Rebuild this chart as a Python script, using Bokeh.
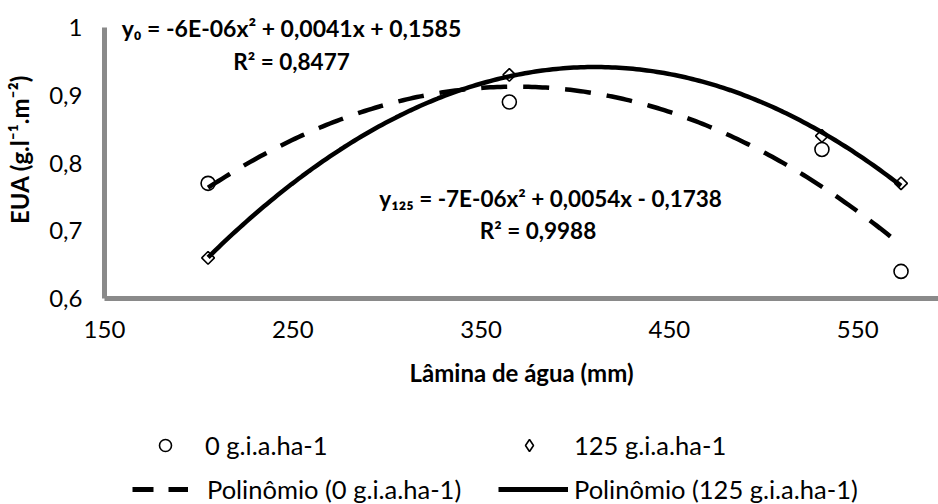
import numpy as np
from bokeh.plotting import figure
from bokeh.layouts import column
from bokeh.models import Range1d, FixedTicker, Label, Legend, LegendItem, ColumnDataSource
from bokeh.embed import file_html
from bokeh.resources import INLINE

# ---------------- data ----------------
lamina_0 = [205, 365, 531, 573]
eua_0 = [0.77, 0.89, 0.82, 0.64]
lamina_125 = [205, 365, 531, 573]
eua_125 = [0.66, 0.93, 0.84, 0.77]

x_ticks = [150, 250, 350, 450, 550]
y_ticks = [0.6, 0.7, 0.8, 0.9, 1.0]
y_tick_labels = ["0,6", "0,7", "0,8", "0,9", "1"]

eq_0 = "y\u2080 = -6E-06x\u00b2 + 0,0041x + 0,1585"
r2_0 = "R\u00b2 = 0,8477"
eq_125 = "y\u2081\u2082\u2085 = -7E-06x\u00b2 + 0,0054x - 0,1738"
r2_125 = "R\u00b2 = 0,9988"

legend_labels = ["0 g.i.a.ha-1", "125 g.i.a.ha-1",
                 "Polin\u00f4mio (0 g.i.a.ha-1)", "Polin\u00f4mio (125 g.i.a.ha-1)"]
x_title = "L\u00e2mina de \u00e1gua (mm)"
y_title = "EUA (g.l\u207b\u00b9.m\u207b\u00b2)"

FONT = "Lato"
AXIS_GREY = "#8a8a8a"

# ---------------- main chart ----------------
# frame spans page x 104..938, y 0..298; value 1.0 sits 27 px below the frame top
p = figure(width=938, height=400, output_backend="svg", toolbar_location=None,
           x_range=Range1d(150, 592.9), y_range=Range1d(0.6, 1.0 + 27 / 677.5),
           min_border_left=104, min_border_right=0, min_border_top=0,
           min_border_bottom=102)
p.outline_line_color = None
p.grid.visible = False
p.background_fill_color = "white"
p.border_fill_color = "white"

for ax in (p.xaxis[0], p.yaxis[0]):
    ax.axis_line_color = AXIS_GREY
    ax.axis_line_width = 5
    ax.major_tick_line_color = None
    ax.minor_tick_line_color = None
    ax.major_tick_out = 0
    ax.major_tick_in = 0
    ax.major_label_text_font = FONT
    ax.major_label_text_font_size = "24px"
    ax.major_label_text_color = "black"
    ax.axis_label_text_font = FONT
    ax.axis_label_text_font_style = "bold"
    ax.axis_label_text_font_size = "24px"
    ax.axis_label_text_color = "black"

p.xaxis.ticker = FixedTicker(ticks=x_ticks)
p.xaxis.major_label_standoff = 22
p.xaxis.axis_label = x_title
p.xaxis.axis_label_standoff = 17

p.yaxis.ticker = FixedTicker(ticks=y_ticks)
p.yaxis.bounds = (0.6, 1.0)
p.yaxis.major_label_overrides = {t: l for t, l in zip(y_ticks, y_tick_labels)}
p.yaxis.major_label_standoff = 22
p.yaxis.axis_label = y_title
p.yaxis.axis_label_standoff = 12

# markers
s0 = ColumnDataSource(dict(x=lamina_0, y=eua_0))
s125 = ColumnDataSource(dict(x=lamina_125, y=eua_125))
p.scatter("x", "y", source=s0, marker="circle", size=14, fill_color="white",
          line_color="black", line_width=1.6)
p.scatter("x", "y", source=s125, marker="square", angle=np.pi / 4, size=9,
          fill_color="white", line_color="black", line_width=1.6)

# polynomial trendlines fitted to the data
c0 = np.polyfit(lamina_0, eua_0, 2)
c125 = np.polyfit(lamina_125, eua_125, 2)
xf0 = np.linspace(min(lamina_0), max(lamina_0), 200)
xf125 = np.linspace(min(lamina_125), max(lamina_125), 200)
p.line(xf0, np.polyval(c0, xf0), line_color="black", line_width=4.5,
       line_dash="26 16")
p.line(xf125, np.polyval(c125, xf125), line_color="black", line_width=4.5)

# equations
eq_style = dict(text_font=FONT, text_font_style="bold", text_color="black",
                text_align="center", text_baseline="alphabetic")
p.add_layout(Label(x=249.3, y=1.0000, text=eq_0, text_font_size="23px", **eq_style))
p.add_layout(Label(x=249.3, y=0.9505, text=r2_0, text_font_size="22.5px", **eq_style))
p.add_layout(Label(x=386.9, y=0.7480, text=eq_125, text_font_size="22.5px", **eq_style))
p.add_layout(Label(x=380.2, y=0.7000, text=r2_125, text_font_size="22.5px", **eq_style))

# ---------------- legend strip ----------------
q = figure(width=938, height=104, output_backend="svg", toolbar_location=None,
           x_range=Range1d(0, 1), y_range=Range1d(0, 1),
           x_axis_type=None, y_axis_type=None, min_border=0,
           min_border_left=104)
q.outline_line_color = None
q.grid.visible = False
q.border_fill_color = "white"

# legend-only renderers: their single point lies outside the strip's ranges
lg_c = q.scatter(x=[-5], y=[-5], marker="circle",
                 fill_color="white", line_color="black", line_width=1.6)
lg_d = q.scatter(x=[-5], y=[-5], marker="diamond",
                 fill_color="white", line_color="black", line_width=1.6)
lg_dash = q.line(x=[-5, -4], y=[-5, -5], line_color="black",
                 line_width=5, line_dash="21 15")
lg_solid = q.line(x=[-5, -4], y=[-5, -5], line_color="black", line_width=5)


def add_legend(label, rend, loc, gw, gh, standoff):
    lg = Legend(items=[LegendItem(label=label, renderers=[rend])], location=loc,
                glyph_width=gw, glyph_height=gh, label_height=gh,
                label_standoff=standoff, padding=0, margin=0, spacing=0,
                border_line_color=None, background_fill_alpha=0,
                label_text_font=FONT, label_text_font_size="25.5px",
                label_text_color="black")
    q.add_layout(lg, "center")


X0 = 104  # page x of the strip's frame
add_legend(legend_labels[0], lg_c, (150 - X0, 44), 30, 30, 25)
add_legend(legend_labels[1], lg_d, (514 - X0, 44), 30, 30, 30)
add_legend(legend_labels[2], lg_dash, (132 - X0, 0), 56, 30, 19)
add_legend(legend_labels[3], lg_solid, (498 - X0, 0), 70, 30, 6)

layout = column(p, q, spacing=0)
open("out.html", "w").write(file_html(layout, INLINE))
